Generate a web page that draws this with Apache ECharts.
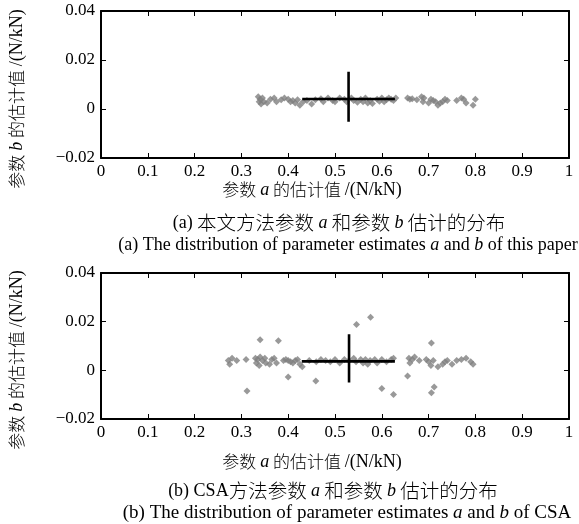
<!DOCTYPE html>
<html><head><meta charset="utf-8">
<script src="https://cdn.jsdelivr.net/npm/echarts@6/dist/echarts.min.js"></script>
<style>html,body{margin:0;padding:0;background:#fff}#c{width:579px;height:524px}</style>
</head><body><div id="c"></div>
<script>
// ---- data ----
var xTickValues = [0, 0.1, 0.2, 0.3, 0.4, 0.5, 0.6, 0.7, 0.8, 0.9, 1];
var yTickValues = [-0.02, 0, 0.02, 0.04];
var yTickLabels = ['\u22120.02', '0', '0.02', '0.04'];

// (a) this paper: estimates of a and b
var aThisPaper = [0.336,0.338,0.34,0.342,0.345,0.348,0.355,0.362,0.37,0.375,0.385,0.392,0.4,0.405,0.41,0.415,0.42,0.425,0.432,0.44,0.45,0.458,0.47,0.475,0.485,0.495,0.5,0.51,0.52,0.525,0.535,0.54,0.548,0.555,0.56,0.565,0.57,0.575,0.58,0.59,0.595,0.6,0.605,0.61,0.615,0.62,0.625,0.63,0.655,0.66,0.665,0.675,0.685,0.688,0.69,0.7,0.705,0.71,0.715,0.72,0.725,0.73,0.735,0.74,0.76,0.77,0.775,0.78,0.795,0.8];
var bThisPaper = [0.005,0.003,0.004,0.002,0.0045,0.003,0.0025,0.004,0.0045,0.003,0.0038,0.0045,0.004,0.003,0.0035,0.0025,0.0038,0.0015,0.003,0.0035,0.002,0.0038,0.0042,0.003,0.0045,0.0035,0.003,0.0045,0.004,0.003,0.0045,0.0035,0.0028,0.004,0.003,0.0045,0.0025,0.0035,0.0022,0.004,0.0032,0.0045,0.003,0.0038,0.0045,0.004,0.0035,0.0045,0.0045,0.004,0.0042,0.0038,0.005,0.003,0.0045,0.0025,0.004,0.0035,0.003,0.0015,0.0025,0.003,0.004,0.0035,0.0035,0.0045,0.004,0.0025,0.0015,0.004];

// (b) CSA: estimates of a and b
var aCSA = [0.272,0.275,0.28,0.29,0.31,0.33,0.332,0.335,0.338,0.34,0.345,0.35,0.352,0.36,0.365,0.37,0.375,0.39,0.395,0.4,0.405,0.41,0.415,0.42,0.425,0.43,0.445,0.46,0.47,0.48,0.49,0.5,0.51,0.52,0.53,0.54,0.545,0.555,0.56,0.565,0.57,0.575,0.585,0.59,0.6,0.61,0.62,0.625,0.658,0.66,0.665,0.67,0.68,0.695,0.7,0.705,0.71,0.72,0.73,0.735,0.74,0.75,0.76,0.77,0.78,0.79,0.795,
            0.34,0.379,0.312,0.4,0.459,0.546,0.576,0.6,0.625,0.655,0.706,0.712,0.706];
var bCSA = [0.004,0.0025,0.005,0.004,0.0045,0.005,0.003,0.0045,0.002,0.0055,0.004,0.005,0.003,0.0025,0.0045,0.005,0.003,0.004,0.0045,0.004,0.0035,0.003,0.004,0.0045,0.0025,0.0015,0.004,0.0035,0.0045,0.004,0.0035,0.0045,0.003,0.0045,0.004,0.005,0.0035,0.0045,0.003,0.0045,0.0025,0.004,0.0045,0.003,0.0045,0.0035,0.0045,0.005,0.005,0.003,0.0045,0.0055,0.004,0.0045,0.0035,0.002,0.004,0.0015,0.0025,0.0035,0.004,0.0025,0.004,0.0045,0.005,0.0035,0.0025,
            0.0126,0.0122,-0.0085,-0.0027,-0.0044,0.0188,0.0218,-0.0075,-0.0099,-0.0023,0.0112,-0.0068,-0.0092];

// mean cross (std range) for each method
var crossA_H = [[0.43, 0.0041], [0.628, 0.0041]];
var crossA_V = [[0.529, -0.0052], [0.529, 0.0152]];
var crossB_H = [[0.429, 0.0037], [0.628, 0.0037]];
var crossB_V = [[0.53, -0.005], [0.53, 0.0148]];

// ---- chart ----
function zip(a, b) { return a.map(function (v, i) { return [v, b[i]]; }); }
var serif = '"Liberation Serif","Times New Roman",serif';
var cjk = '"Noto Sans CJK SC",sans-serif';
var chart = echarts.init(document.getElementById('c'), null, {renderer: 'canvas'});

function xAx(gi, pos, labels) {
  return {
    type: 'value', gridIndex: gi, position: pos, min: 0, max: 1, interval: 0.1,
    axisLine: {show: true, onZero: false, lineStyle: {color: '#000', width: 2}},
    axisTick: {show: true, inside: true, length: 5, lineStyle: {color: '#000', width: 1}},
    axisLabel: {show: labels, margin: 5, color: '#000', fontFamily: serif, fontSize: 17,
      formatter: function (v) { var i = xTickValues.findIndex(function (t) { return Math.abs(t - v) < 1e-9; }); return i >= 0 ? String(xTickValues[i]) : ''; }},
    splitLine: {show: false}
  };
}
function yAx(gi, pos, labels) {
  return {
    type: 'value', gridIndex: gi, position: pos, min: -0.02, max: 0.04, interval: 0.02,
    axisLine: {show: true, onZero: false, lineStyle: {color: '#000', width: 2}},
    axisTick: {show: true, inside: true, length: 5, lineStyle: {color: '#000', width: 1}},
    axisLabel: {show: labels, margin: 6, color: '#000', fontFamily: serif, fontSize: 17,
      formatter: function (v) { var i = yTickValues.findIndex(function (t) { return Math.abs(t - v) < 1e-9; }); return i >= 0 ? yTickLabels[i] : ''; }},
    splitLine: {show: false}
  };
}
function scat(xi, yi, data) {
  return {type: 'scatter', xAxisIndex: xi, yAxisIndex: yi, data: data, symbol: 'diamond', symbolSize: 7,
    itemStyle: {color: '#7f7f7f'}, silent: true, z: 2};
}
function seg(xi, yi, data) {
  return {type: 'line', xAxisIndex: xi, yAxisIndex: yi, data: data, symbol: 'none',
    lineStyle: {color: '#000', width: 2.6}, silent: true, z: 3};
}
var rich = {
  c: {fontFamily: cjk, fontSize: 17, fontWeight: 300, color: '#000'},
  i: {fontFamily: serif, fontStyle: 'italic', fontSize: 18, color: '#000'},
  t: {fontFamily: serif, fontSize: 18, color: '#000'},
  cc: {fontFamily: cjk, fontSize: 19.5, fontWeight: 300, color: '#000'},
  tt: {fontFamily: serif, fontSize: 18, color: '#000'},
  ti: {fontFamily: serif, fontStyle: 'italic', fontSize: 18, color: '#000'},
  tb: {fontFamily: serif, fontSize: 19, color: '#000'},
  tbi: {fontFamily: serif, fontStyle: 'italic', fontSize: 19, color: '#000'}
};
function txt(x, y, text, rot) {
  return {type: 'text', x: x, y: y, rotation: rot || 0, silent: true,
    style: {text: text, x: 0, y: 0, align: 'center', verticalAlign: 'middle', rich: rich, fill: '#000'}};
}
var yName = '{c|参数 }{i|b}{c| 的估计值 }{t|/(N/kN)}';
var xName = '{c|参数 }{i|a}{c| 的估计值 }{t|/(N/kN)}';

chart.setOption({
  animation: false,
  backgroundColor: '#fff',
  grid: [
    {left: 101, right: 10, top: 11, height: 147},
    {left: 101, right: 10, top: 273, height: 146}
  ],
  xAxis: [xAx(0, 'bottom', true), xAx(0, 'top', false), xAx(1, 'bottom', true), xAx(1, 'top', false)],
  yAxis: [yAx(0, 'left', true), yAx(0, 'right', false), yAx(1, 'left', true), yAx(1, 'right', false)],
  series: [
    scat(0, 0, zip(aThisPaper, bThisPaper)),
    seg(0, 0, crossA_H), seg(0, 0, crossA_V),
    scat(2, 2, zip(aCSA, bCSA)),
    seg(2, 2, crossB_H), seg(2, 2, crossB_V)
  ],
  graphic: [
    txt(17, 99, yName, Math.PI / 2),
    txt(17, 360, yName, Math.PI / 2),
    txt(312, 190, xName),
    txt(312, 462, xName),
    txt(339, 223, '{tt|(a) }{cc|本文方法参数 }{ti|a}{cc| 和参数 }{ti|b}{cc| 估计的分布}'),
    txt(348, 245, '{tt|(a) The distribution of parameter estimates }{ti|a}{tt| and }{ti|b}{tt| of this paper}'),
    txt(333, 491, '{tt|(b) CSA}{cc|方法参数 }{ti|a}{cc| 和参数 }{ti|b}{cc| 估计的分布}'),
    txt(347, 513, '{tb|(b) The distribution of parameter estimates }{tbi|a}{tb| and }{tbi|b}{tb| of CSA}')
  ]
});
</script>
</body></html>
